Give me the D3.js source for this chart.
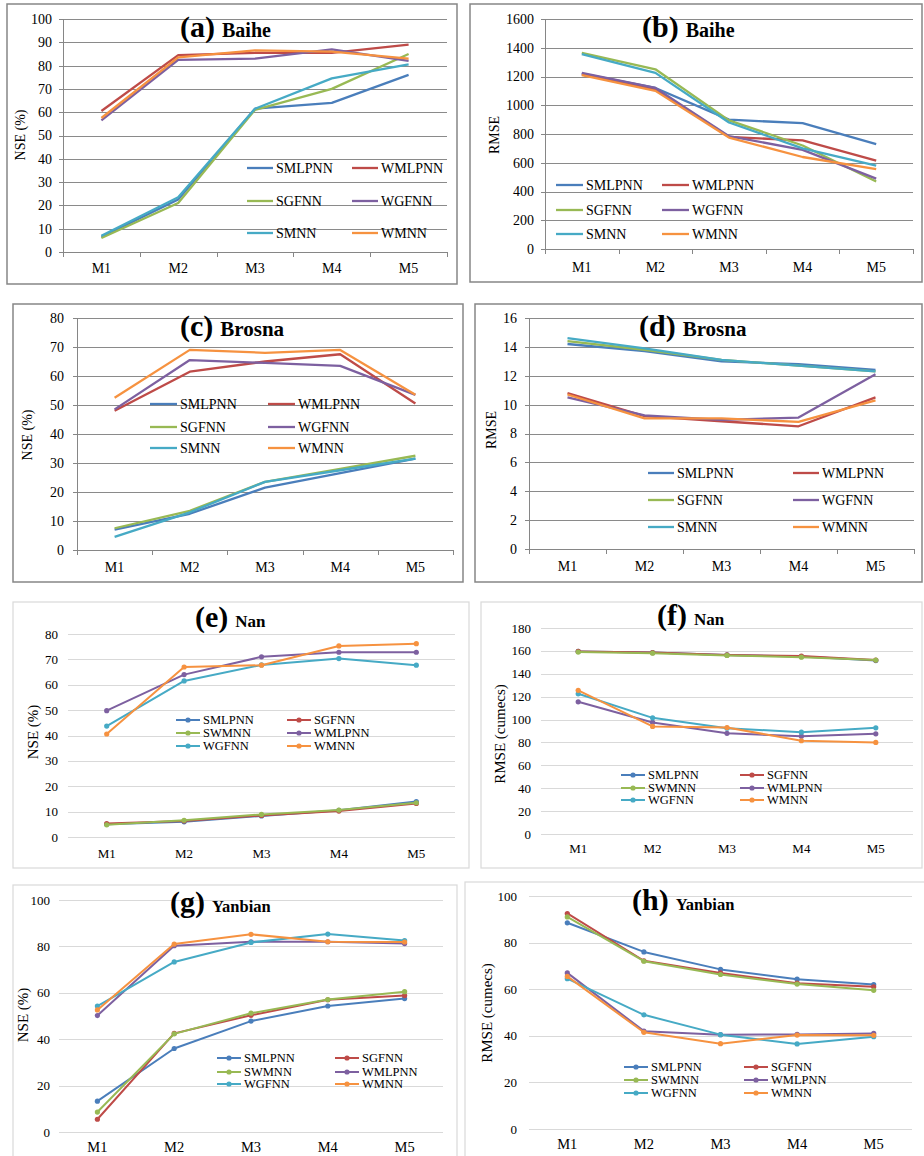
<!DOCTYPE html>
<html>
<head>
<meta charset="utf-8">
<script src="https://cdn.jsdelivr.net/npm/d3@7"></script>
<style>
  body { margin: 0; background: #fff; }
  svg text { font-family: "Liberation Serif", "Times New Roman", "DejaVu Serif", serif; fill: #000; }
</style>
</head>
<body>
<script>
// categories / series names
const categories = ["M1", "M2", "M3", "M4", "M5"];
const namesAD = ["SMLPNN", "WMLPNN", "SGFNN", "WGFNN", "SMNN", "WMNN"];
const namesEH = ["SMLPNN", "SGFNN", "SWMNN", "WMLPNN", "WGFNN", "WMNN"];

// values, one row per series (same order as the names above)
const baiheNse = [
  [6.5, 22.5, 61.5, 64, 76],
  [60.5, 84.5, 85.5, 85.5, 89],
  [6, 21, 61, 70, 85],
  [56.5, 82.5, 83, 87, 82],
  [7, 23.5, 61.5, 74.5, 80.5],
  [57.5, 83.5, 86.5, 86, 83]
];
const baiheRmse = [
  [1220, 1120, 900, 875, 730],
  [1215, 1110, 780, 755, 615],
  [1365, 1250, 895, 720, 470],
  [1225, 1120, 785, 690, 490],
  [1355, 1225, 880, 700, 580],
  [1210, 1100, 775, 640, 555]
];
const brosnaNse = [
  [7, 12.5, 21.5, 26.5, 31.5],
  [48, 61.5, 65, 67.5, 50.5],
  [7.5, 13.5, 23.5, 28, 32.5],
  [48.5, 65.5, 64.5, 63.5, 53.5],
  [4.5, 13, 23.5, 27.5, 31.5],
  [52.5, 69, 68, 69, 53.5]
];
const brosnaRmse = [
  [14.2, 13.7, 13.0, 12.8, 12.4],
  [10.8, 9.2, 8.85, 8.5, 10.5],
  [14.4, 13.8, 13.1, 12.7, 12.3],
  [10.5, 9.25, 8.95, 9.1, 12.1],
  [14.6, 13.9, 13.1, 12.7, 12.3],
  [10.7, 9.05, 9.05, 8.8, 10.3]
];
const nanNse = [
  [5, 6, 8.3, 10.5, 14],
  [5.3, 6.3, 8.5, 10.2, 13.2],
  [4.8, 6.6, 8.9, 10.6, 13.5],
  [49.8, 64, 71, 72.8, 72.8],
  [43.7, 61.5, 67.8, 70.3, 67.7],
  [40.6, 67, 67.7, 75.3, 76.2]
];
const nanRmse = [
  [159.5, 158.5, 156.5, 155, 151.5],
  [159.5, 158.5, 156.5, 155.5, 152],
  [159, 158, 156, 154.5, 152],
  [115.5, 97.5, 88, 85.5, 87.5],
  [122.5, 101.5, 92.5, 89, 92.8],
  [125.5, 94, 93, 81.5, 80]
];
const yanbianNse = [
  [13.3, 36, 47.8, 54.3, 57.5],
  [5.5, 42.5, 50.3, 57, 58.8],
  [8.6, 42.3, 51.2, 57.1, 60.5],
  [50.2, 80.3, 82, 82, 81.2],
  [54.3, 73.3, 81.7, 85.3, 82.5],
  [52.6, 81, 85.2, 82, 81.9]
];
const yanbianRmse = [
  [88.5, 76, 68.5, 64.3, 62],
  [92.5, 72.2, 67, 62.6, 61],
  [91, 72, 66.3, 62.2, 59.5],
  [67, 42, 40.5, 40.6, 41],
  [64.5, 49, 40.5, 36.5, 39.6],
  [65.5, 41.5, 36.6, 40.3, 40.2]
];

// y tick labels
const ticksA = [0, 10, 20, 30, 40, 50, 60, 70, 80, 90, 100];
const ticksB = [0, 200, 400, 600, 800, 1000, 1200, 1400, 1600];
const ticksC = [0, 10, 20, 30, 40, 50, 60, 70, 80];
const ticksD = [0, 2, 4, 6, 8, 10, 12, 14, 16];
const ticksE = [0, 10, 20, 30, 40, 50, 60, 70, 80];
const ticksF = [0, 20, 40, 60, 80, 100, 120, 140, 160, 180];
const ticksG = [0, 20, 40, 60, 80, 100];
const ticksH = [0, 20, 40, 60, 80, 100];

const colors = ["#4a7ebb", "#be4b48", "#98b954", "#7d60a0", "#46aac5", "#f69240"];
const FONT = "'Liberation Serif', 'Times New Roman', 'DejaVu Serif', serif";

// layout of each panel (frame = x0,y0,x1,y1 ; plot = left,right,top,bottom)
const panels = [
  { data: baiheNse, names: namesAD, ticks: ticksA, old: true, frame: [7, 4, 457, 284], plot: [63, 447, 19, 252],
    ylabel: "NSE (%)", yl: [20, 135], tag: "(a)", title: "Baihe", tt: [180, 37], nameSize: 20,
    leg: [247, 352, 26], rows: [168, 201, 233], tickGap: 11, xdy: 21 },
  { data: baiheRmse, names: namesAD, ticks: ticksB, old: true, frame: [470, 4, 922, 282], plot: [545, 913, 19, 249],
    ylabel: "RMSE", yl: [494, 135], tag: "(b)", title: "Baihe", tt: [642, 37], nameSize: 20,
    leg: [556, 662, 27], rows: [185, 210, 234], tickGap: 11, xdy: 23 },
  { data: brosnaNse, names: namesAD, ticks: ticksC, old: true, frame: [13, 304, 463, 582], plot: [77, 453, 318, 550],
    ylabel: "NSE (%)", yl: [27, 435], tag: "(c)", title: "Brosna", tt: [180, 336], nameSize: 21,
    leg: [150, 268, 27], rows: [404, 427, 448], tickGap: 13, xdy: 22 },
  { data: brosnaRmse, names: namesAD, ticks: ticksD, old: true, frame: [475, 304, 922, 582], plot: [529, 914, 318, 549],
    ylabel: "RMSE", yl: [491, 430], tag: "(d)", title: "Brosna", tt: [639, 336], nameSize: 21,
    leg: [648, 793, 26], rows: [473, 500, 527], tickGap: 12, xdy: 22 },
  { data: nanNse, names: namesEH, ticks: ticksE, old: false, frame: [13, 602, 469, 868], plot: [68, 455, 634, 837],
    ylabel: "NSE (%)", yl: [33, 732], tag: "(e)", title: "Nan", tt: [195, 627], nameSize: 17,
    leg: [176, 287, 24], rows: [720, 733, 746], tickGap: 10, xdy: 21 },
  { data: nanRmse, names: namesEH, ticks: ticksF, old: false, frame: [481, 602, 922, 868], plot: [541, 913, 628, 834],
    ylabel: "RMSE (cumecs)", yl: [500, 734], tag: "(f)", title: "Nan", tt: [657, 625], nameSize: 17,
    leg: [621, 740, 24], rows: [775, 788, 800], tickGap: 10, xdy: 19 },
  { data: yanbianNse, names: namesEH, ticks: ticksG, old: false, frame: [13, 885, 457, 1170], plot: [59, 443, 900, 1132],
    ylabel: "NSE (%)", yl: [23, 1015], tag: "(g)", title: "Yanbian", tt: [170, 912], nameSize: 16.5,
    leg: [217, 335, 24], rows: [1058, 1072, 1084], tickGap: 9, xdy: 20 },
  { data: yanbianRmse, names: namesEH, ticks: ticksH, old: false, frame: [465, 882, 930, 1170], plot: [529, 912, 896, 1129],
    ylabel: "RMSE (cumecs)", yl: [487, 1013], tag: "(h)", title: "Yanbian", tt: [632, 910], nameSize: 16.5,
    leg: [624, 744, 24], rows: [1067, 1080, 1093], tickGap: 12, xdy: 20 }
];

const svg = d3.select("body").append("svg")
    .attr("width", 924)
    .attr("height", 1156)
    .attr("font-family", FONT);

const drawPanel = (p) => {
  const g = svg.append("g");
  const [left, right, top, bottom] = p.plot;
  const tickFont = p.old ? 14 : 13;
  const xFont = p.old ? 14 : (p.title === "Yanbian" ? 14.5 : 13);
  const legFont = p.old ? 14 : 12.5;
  const gridColor = p.old ? "#8a8a8a" : "#d9d9d9";

  // frame
  g.append("rect")
      .attr("x", p.frame[0]).attr("y", p.frame[1])
      .attr("width", p.frame[2] - p.frame[0]).attr("height", p.frame[3] - p.frame[1])
      .attr("fill", "none")
      .attr("stroke", p.old ? "#868686" : "#d9d9d9")
      .attr("stroke-width", p.old ? 1.5 : 1.2);

  const x = d3.scaleBand().domain(categories).range([left, right]);
  const y = d3.scaleLinear().domain([0, d3.max(p.ticks)]).range([bottom, top]);

  // gridlines
  g.append("g")
    .selectAll("line")
    .data(p.old ? p.ticks.slice(1) : p.ticks)
    .enter().append("line")
      .attr("x1", left).attr("x2", right)
      .attr("y1", d => Math.round(y(d)) + 0.5).attr("y2", d => Math.round(y(d)) + 0.5)
      .attr("stroke", gridColor)
      .attr("stroke-width", 1);

  // axes (old excel style only)
  if (p.old) {
    const ax = g.append("g").attr("stroke", "#868686").attr("stroke-width", 1);
    ax.append("line").attr("x1", left + 0.5).attr("x2", left + 0.5).attr("y1", top).attr("y2", bottom);
    ax.append("line").attr("x1", left).attr("x2", right).attr("y1", bottom + 0.5).attr("y2", bottom + 0.5);
    p.ticks.forEach(t => {
      ax.append("line").attr("x1", left - 4).attr("x2", left)
        .attr("y1", Math.round(y(t)) + 0.5).attr("y2", Math.round(y(t)) + 0.5);
    });
    categories.concat(["end"]).forEach((c, i) => {
      const xx = Math.round(left + i * x.bandwidth()) + 0.5;
      ax.append("line").attr("x1", xx).attr("x2", xx).attr("y1", bottom).attr("y2", bottom + 5);
    });
  }

  // y tick labels
  g.append("g")
    .selectAll("text")
    .data(p.ticks)
    .enter().append("text")
      .attr("x", left - p.tickGap)
      .attr("y", d => y(d))
      .attr("dy", "0.35em")
      .attr("text-anchor", "end")
      .attr("font-size", tickFont)
      .text(d => d);

  // x tick labels
  g.append("g")
    .selectAll("text")
    .data(categories)
    .enter().append("text")
      .attr("x", d => x(d) + x.bandwidth() / 2)
      .attr("y", bottom + p.xdy)
      .attr("text-anchor", "middle")
      .attr("font-size", xFont)
      .text(d => d);

  // y label
  g.append("text")
      .attr("transform", `translate(${p.yl[0]},${p.yl[1]}) rotate(-90)`)
      .attr("dy", "0.35em")
      .attr("text-anchor", "middle")
      .attr("font-size", p.old ? 14 : 15)
      .text(p.ylabel);

  // title
  const t = g.append("text")
      .attr("x", p.tt[0]).attr("y", p.tt[1])
      .attr("font-weight", "bold");
  t.append("tspan").attr("font-size", 30).text(p.tag);
  t.append("tspan").attr("dx", 7).attr("font-size", p.nameSize).text(p.title);

  // series
  const line = d3.line()
      .x((d, i) => x(categories[i]) + x.bandwidth() / 2)
      .y(d => y(d));

  p.data.forEach((vals, s) => {
    g.append("path")
        .datum(vals)
        .attr("d", line)
        .attr("fill", "none")
        .attr("stroke", colors[s])
        .attr("stroke-width", p.old ? 2.3 : 2)
        .attr("stroke-linejoin", "round");
    if (!p.old) {
      g.append("g")
        .selectAll("circle")
        .data(vals)
        .enter().append("circle")
          .attr("cx", (d, i) => x(categories[i]) + x.bandwidth() / 2)
          .attr("cy", d => y(d))
          .attr("r", 2.6)
          .attr("fill", colors[s]);
    }
  });

  // legend, two columns x three rows
  p.names.forEach((name, i) => {
    const cx = i % 2 === 0 ? p.leg[0] : p.leg[1];
    const cy = p.rows[Math.floor(i / 2)];
    const len = p.leg[2];
    g.append("line")
        .attr("x1", cx).attr("x2", cx + len)
        .attr("y1", cy).attr("y2", cy)
        .attr("stroke", colors[i])
        .attr("stroke-width", p.old ? 2.3 : 2);
    if (!p.old) {
      g.append("circle")
          .attr("cx", cx + len / 2).attr("cy", cy)
          .attr("r", 2.6)
          .attr("fill", colors[i]);
    }
    g.append("text")
        .attr("x", cx + len + 3)
        .attr("y", cy)
        .attr("dy", "0.35em")
        .attr("font-size", legFont)
        .text(name);
  });
};

panels.forEach(drawPanel);
</script>
</body>
</html>
